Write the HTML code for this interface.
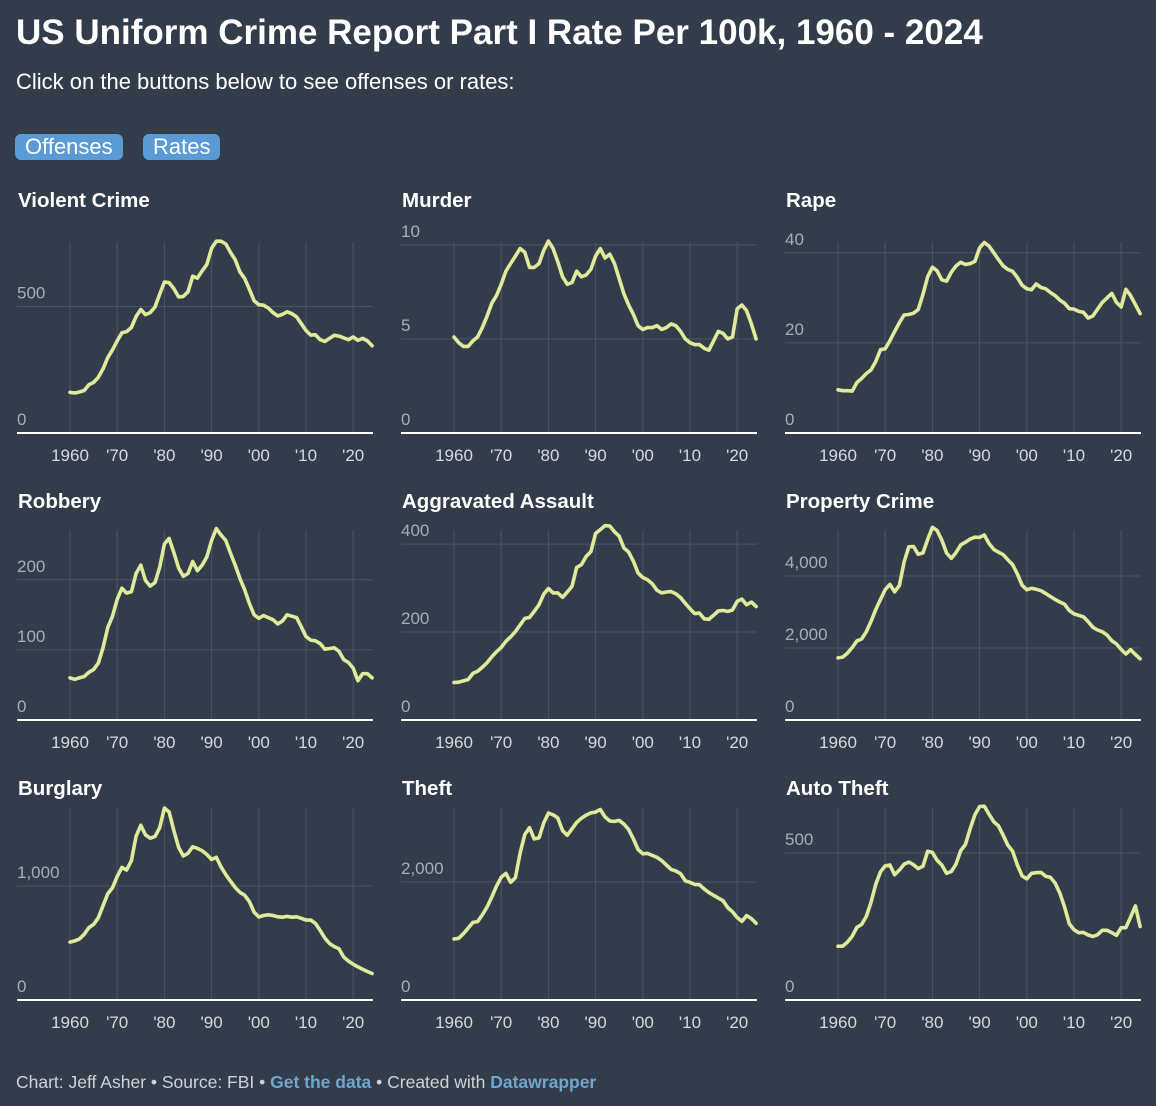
<!DOCTYPE html>
<html><head><meta charset="utf-8">
<style>
body{margin:0;background:#333c4a;width:1156px;height:1106px;overflow:hidden;font-family:"Liberation Sans",Arial,sans-serif;color:#fff;position:relative}
.t{position:absolute;left:16px;top:13px;font-size:35px;font-weight:bold;margin:0}
.s{position:absolute;left:16px;top:69px;font-size:22px}
.b{position:absolute;top:134px;height:26px;line-height:26px;background:#5b9bd5;border-radius:6px;font-size:22px;padding:0 10px;color:#fff}
.f{position:absolute;left:16px;top:1072px;font-size:17.5px;color:#d0d3d8}
.f b{color:#6fa6cf}
svg{position:absolute;left:0;top:0}
</style></head><body>
<h1 class="t">US Uniform Crime Report Part I Rate Per 100k, 1960 - 2024</h1>
<div class="s">Click on the buttons below to see offenses or rates:</div>
<div class="b" style="left:15px">Offenses</div>
<div class="b" style="left:143px">Rates</div>
<svg id="c" width="1156" height="1106"></svg>
<div class="f">Chart: Jeff Asher • Source: FBI • <b>Get the data</b> • Created with <b>Datawrapper</b></div>
<script>
const titles=["Violent Crime","Murder","Rape","Robbery","Aggravated Assault","Property Crime","Burglary","Theft","Auto Theft"];
const tickYears=[1960,1970,1980,1990,2000,2010,2020];
const tickYearLabels=["1960","'70","'80","'90","'00","'10","'20"];
const violent=[161,158,162,168,191,200,220,253,298,329,364,396,401,417,461,488,468,476,498,549,597,594,571,538,540,558,620,612,641,667,730,758,758,747,714,685,637,611,568,523,507,505,494,476,463,469,479,472,459,432,405,387,388,369,362,374,386,383,376,369,380,366,374,364,345];
const murder=[5.1,4.8,4.6,4.6,4.9,5.1,5.6,6.2,6.9,7.3,7.9,8.6,9.0,9.4,9.8,9.6,8.8,8.8,9.0,9.7,10.2,9.8,9.1,8.3,7.9,8.0,8.6,8.3,8.4,8.7,9.4,9.8,9.3,9.5,9.0,8.2,7.4,6.8,6.3,5.7,5.5,5.6,5.6,5.7,5.5,5.6,5.8,5.7,5.4,5.0,4.8,4.7,4.7,4.5,4.4,4.9,5.4,5.3,5.0,5.1,6.6,6.8,6.5,5.8,5.0];
const rape=[9.6,9.4,9.4,9.3,11.2,12.1,13.2,14.0,15.9,18.5,18.7,20.5,22.5,24.5,26.2,26.3,26.6,27.4,30.8,34.7,36.8,36.0,34.0,33.7,35.7,37.1,37.9,37.4,37.6,38.1,41.1,42.3,41.5,40.0,38.5,37.1,36.3,35.9,34.5,32.8,32.0,31.8,33.1,32.3,32.0,31.2,30.5,29.5,28.8,27.6,27.5,27.0,26.8,25.5,26.0,27.5,29.0,30.0,31.0,29.0,28.0,31.9,30.5,28.5,26.5];
const robbery=[60,58,60,62,68,72,81,103,132,148,172,188,181,183,209,221,199,191,196,218,251,259,239,217,205,209,226,213,221,233,256,273,264,256,238,221,202,186,166,150,145,149,146,143,137,141,150,148,146,133,119,114,113,109,101,102,103,98,86,82,74,56,66,66,60];
const assault=[85,86,89,92,106,111,120,130,144,155,165,179,189,201,216,231,233,247,262,286,299,289,289,279,291,304,347,353,372,383,424,433,442,441,428,418,391,382,361,334,324,319,310,295,289,291,292,287,278,265,253,242,243,230,229,238,248,249,247,250,270,275,262,268,258];
const property=[1726,1747,1857,2012,2197,2249,2450,2736,3071,3351,3621,3768,3560,3737,4389,4811,4820,4602,4642,5016,5353,5264,4997,4637,4492,4651,4863,4940,5027,5078,5073,5140,4903,4740,4661,4591,4451,4316,4052,3744,3618,3658,3631,3591,3514,3432,3347,3277,3215,3041,2946,2905,2868,2733,2574,2500,2451,2362,2200,2110,1958,1833,1955,1820,1700];
const burglary=[508,518,535,576,635,663,721,826,932,984,1084,1163,1140,1222,1437,1532,1448,1419,1434,1511,1684,1649,1488,1338,1263,1287,1345,1330,1309,1276,1232,1252,1168,1099,1042,987,945,919,863,770,728,741,747,741,730,726,733,726,730,717,701,702,672,610,542,495,468,449,376,341,314,290,270,250,232];
const theft=[1034,1045,1124,1219,1315,1329,1442,1575,1746,1931,2079,2146,1994,2072,2489,2805,2921,2730,2747,2999,3167,3139,3085,2869,2791,2901,3010,3081,3134,3171,3185,3229,3103,3033,3027,3044,2981,2891,2729,2551,2478,2485,2451,2417,2362,2288,2213,2186,2140,2020,1995,1960,1954,1882,1821,1775,1727,1683,1566,1494,1397,1334,1430,1380,1300];
const auto=[183,183,197,217,247,257,284,332,394,436,456,459,426,442,462,469,460,447,455,506,502,475,459,431,437,462,508,529,583,630,658,659,632,606,592,560,526,506,459,422,412,431,433,434,421,417,398,364,316,259,239,229,230,221,216,222,237,237,229,220,246,246,282,320,250];
const series=[violent,murder,rape,robbery,assault,property,burglary,theft,auto];
const yTicks=[[0,500],[0,5,10],[0,20,40],[0,100,200],[0,200,400],[0,2000,4000],[0,1000],[0,2000],[0,500]];
const yTickLabels=[["0","500"],["0","5","10"],["0","20","40"],["0","100","200"],["0","200","400"],["0","2,000","4,000"],["0","1,000"],["0","2,000"],["0","500"]];
const yMax=[755,10.15,42.4,271,432,5278,1684,3254,653];
const NS="http://www.w3.org/2000/svg",svg=document.getElementById("c");
const rows=[{top:242,base:433,title:200},{top:530,base:720,title:501},{top:808,base:1000,title:788}];
function mk(tag,a,p){const e=document.createElementNS(NS,tag);for(const k in a)e.setAttribute(k,a[k]);(p||svg).appendChild(e);return e;}
series.forEach((data,i)=>{
  const ox=(i%3)*384,r=rows[Math.floor(i/3)];
  const g=mk("g",{});
  
  
  const xs=y=>ox+70+(y-1960)*4.72;
  const ys=v=>r.base-(v/yMax[i])*(r.base-r.top);
  const t=mk("text",{x:ox+18,y:r.title+7,fill:"#fff","font-size":20.5,"font-weight":"bold"},g);t.textContent=titles[i];
  
  
  tickYears.forEach((yr,k)=>{
    const l=mk("line",{x1:xs(yr),x2:xs(yr),y1:r.top,y2:r.base,stroke:"#4c5566","stroke-width":1},g);
    
    
    const tx=mk("text",{x:xs(yr),y:r.base+28,fill:"#d6d9de","font-size":17,"text-anchor":"middle"},g);tx.textContent=tickYearLabels[k];
    
    
  });
  yTicks[i].forEach((v,k)=>{
    if(v>0){const l=mk("line",{x1:ox+17,x2:ox+373,y1:ys(v),y2:ys(v),stroke:"#4c5566","stroke-width":1},g);
    
    }
    const tx=mk("text",{x:ox+17,y:ys(v)-8,fill:"#a7adb7","font-size":17},g);tx.textContent=yTickLabels[i][k];
    
    
  });
  const ax=mk("line",{x1:ox+17,x2:ox+373,y1:r.base,y2:r.base,stroke:"#fff","stroke-width":2},g);
  
  
  const d=data.map((v,k)=>(k?"L":"M")+xs(1960+k).toFixed(1)+","+ys(v).toFixed(1)).join("");
  const p=mk("path",{d:d,fill:"none",stroke:"#e0ea9b","stroke-width":3.6,"stroke-linejoin":"round","stroke-linecap":"round"},g);
  
  
});
</script>
</body></html>
